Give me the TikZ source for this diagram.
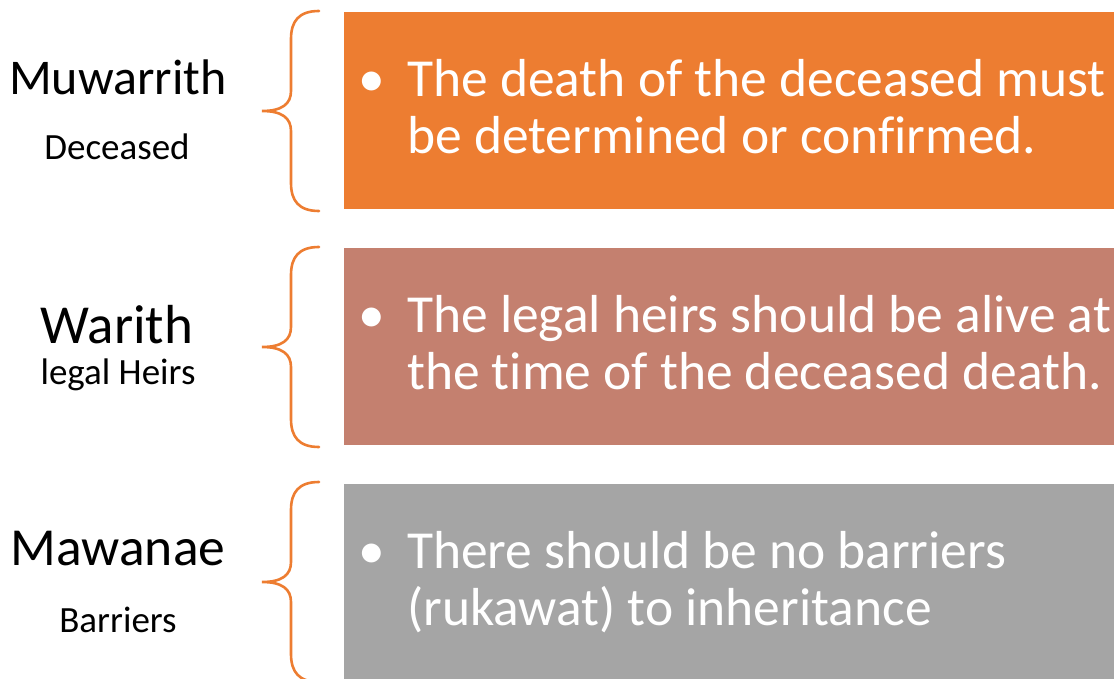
\documentclass[tikz,border=0pt]{standalone}
\usepackage{fontspec}
\setmainfont{Carlito}[Ligatures=NoCommon]
\definecolor{orangeA}{HTML}{ED7D31}
\definecolor{roseA}{HTML}{C4806F}
\definecolor{greyA}{HTML}{A5A5A5}
\tikzset{
  panel/.style={fill=#1, draw=none},
  brace/.style={draw=orangeA, line width=2.6pt, line cap=round},
  title/.style={anchor=base, font=\fontsize{50}{60}\selectfont, inner sep=0pt},
  subtitle/.style={anchor=base, font=\fontsize{37}{43}\selectfont, inner sep=0pt},
  bullettext/.style={anchor=base west, align=left, text=white, inner sep=0pt, font=\fontsize{53.5}{57}\selectfont},
  bulletdot/.style={anchor=base, text=white, inner sep=0pt, font=\fontsize{53.5}{57}\selectfont},
}
\begin{document}
\begin{tikzpicture}[x=1pt,y=-1pt]
\useasboundingbox (0,0) rectangle (1114,679);
% panels
\path[panel=orangeA] (344,12) rectangle (1120,209);
\path[panel=roseA] (344,248) rectangle (1120,445);
\path[panel=greyA] (344,484) rectangle (1120,690);
% braces
\foreach \t in {11,247,482}{
  \draw[brace] (319,\t) .. controls (299,\t) and (291,\t+10) .. (291,\t+28)
    -- (291,\t+80) .. controls (291,\t+93) and (282,\t+100) .. (262,\t+100)
    .. controls (282,\t+100) and (291,\t+107) .. (291,\t+120)
    -- (291,\t+172) .. controls (291,\t+190) and (299,\t+200) .. (319,\t+200);
}
% left labels
\node[title] (t1) at (118,95) {Muwarrith};
\node[subtitle] (s1) at (117,160) {Deceased};
\node[title, font=\fontsize{55}{60}\selectfont] (t2) at (117,343) {Warith};
\node[subtitle] (s2) at (118,384) {legal Heirs};
\node[title, font=\fontsize{53.5}{60}\selectfont] (t3) at (118,565) {Mawanae};
\node[subtitle] (s3) at (118,632) {Barriers};
% bullets
\node[bulletdot] (b1) at (372,97) {•};
\node[bullettext] (x1) at (407,154) {The death of the deceased must\\be determined or confirmed.};
\node[bulletdot] (b2) at (372,332) {•};
\node[bullettext] (x2) at (407,389) {The legal heirs should be alive at\\the time of the deceased death.};
\node[bulletdot] (b3) at (372,568) {•};
\node[bullettext] (x3) at (407,625) {There should be no barriers\\(rukawat) to inheritance};
\end{tikzpicture}
\end{document}
